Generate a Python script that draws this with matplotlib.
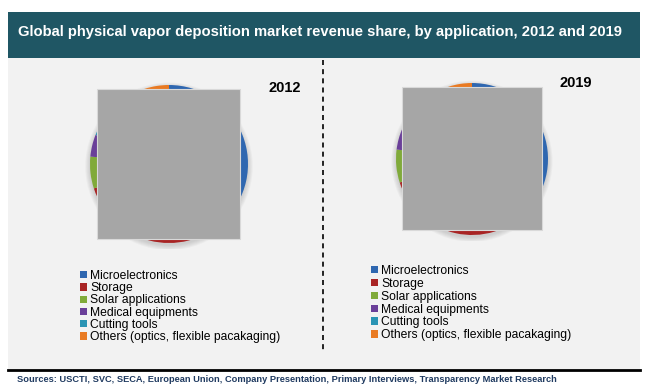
import matplotlib.pyplot as plt
import numpy as np
from matplotlib.patches import Rectangle, Circle

plt.rcParams['font.family'] = ['Liberation Sans', 'DejaVu Sans']

title = "Global physical vapor deposition market revenue share, by application, 2012 and 2019"
source = ("Sources: USCTI, SVC, SECA, European Union, Company Presentation, "
          "Primary Interviews, Transparency Market Research")

applications = ["Microelectronics", "Storage", "Solar applications",
                "Medical equipments", "Cutting tools",
                "Others (optics, flexible pacakaging)"]
colors = ["#2F67B0", "#A82424", "#80AA3A", "#6A3F99", "#2A94B4", "#E97A22"]

years = ["2012", "2019"]
share_2012 = [38.0, 32.0, 6.5, 4.5, 14.0, 5.0]
share_2019 = [37.0, 33.0, 7.0, 4.5, 13.5, 5.0]

W, H = 650, 390
fig = plt.figure(figsize=(W / 100, H / 100), dpi=100)


def px_axes(left, top, width, height, z=1):
    return fig.add_axes([left / W, 1 - (top + height) / H, width / W, height / H], zorder=z)


# background, title bar, divider
bg = px_axes(0, 0, W, H, z=0)
bg.set_xlim(0, W)
bg.set_ylim(H, 0)
bg.axis("off")
bg.add_patch(Rectangle((8, 58), 632, 311, color="#F2F2F2", lw=0))
bg.add_patch(Rectangle((8, 12), 632, 46, color="#1F5664", lw=0))
bg.text(18, 32, title, color="white", fontsize=10.6, fontweight="bold", va="center", ha="left")
bg.plot([323, 323], [60, 352], color="black", lw=1.2, ls=(0, (3, 2.5)))
bg.plot([8, 640], [369.5, 369.5], color="black", lw=2)
bg.text(17, 379, source, color="#1F3A60", fontsize=6.7, fontweight="bold", va="center", ha="left")

# pies: (left, top, size) in pixels
pie_boxes = [(90, 85, 158), (396, 83, 152)]
shares = [share_2012, share_2019]
wedge_sets = []
for (l, t, s), vals in zip(pie_boxes, shares):
    ax = px_axes(l - 6, t - 6, s + 12, s + 12, z=1)
    lim = 1 + 6 / (s / 2)
    ax.axis("off")
    for k in range(6):
        ax.add_patch(Circle((0, -0.03), 1.0 + 0.012 * k, color="#7f7f7f", alpha=0.06, lw=0, zorder=0))
    wedges, _ = ax.pie(vals, colors=colors, startangle=90, counterclock=False, radius=1,
                       wedgeprops=dict(linewidth=0))
    ax.set_xlim(-lim, lim)
    ax.set_ylim(-lim, lim)
    wedge_sets.append(wedges)

# overlay: grey boxes, year labels
ov = px_axes(0, 0, W, H, z=5)
ov.set_xlim(0, W)
ov.set_ylim(H, 0)
ov.axis("off")
ov.patch.set_alpha(0)
ov.add_patch(Rectangle((97, 89), 143, 150, facecolor="#A6A6A6", edgecolor="#D9D9D9", lw=0.8))
ov.add_patch(Rectangle((402, 87), 140, 143, facecolor="#A6A6A6", edgecolor="#D9D9D9", lw=0.8))
ov.text(285, 88, years[0], fontsize=10.5, fontweight="bold", ha="center", va="center")
ov.text(576, 83, years[1], fontsize=10.5, fontweight="bold", ha="center", va="center")

# legends
leg_pos = [(80, 270), (371, 265)]
spacing = [0.02, 0.07]
for (x, y), wedges, sp in zip(leg_pos, wedge_sets, spacing):
    fig.legend(wedges, applications, loc="upper left", bbox_to_anchor=(x / W, 1 - y / H),
               frameon=False, fontsize=8.7, handlelength=0.55, handleheight=0.55,
               handletextpad=0.3, labelspacing=sp, borderpad=0, borderaxespad=0)

fig.savefig("out.png", dpi=100)
